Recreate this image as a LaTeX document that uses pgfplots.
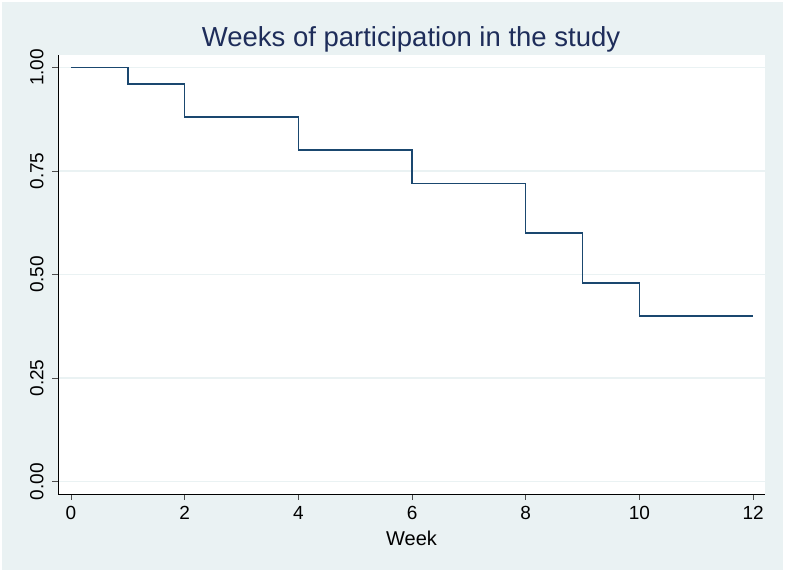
\documentclass[border=0pt]{standalone}
\usepackage{pgfplots}
\pgfplotsset{compat=1.18}
\usepackage{fontspec}
\setmainfont{Liberation Sans}
\definecolor{bgc}{RGB}{234,242,243}
\definecolor{navy}{RGB}{26,71,111}
\definecolor{titc}{RGB}{30,45,90}
\begin{document}
\begin{tikzpicture}[x=1pt,y=1pt]
\useasboundingbox (0,0) rectangle (786,572);
\fill[white] (0,0) rectangle (786,572);
\fill[bgc] (2,2) rectangle (783,570);
\node[font=\fontsize{27.5}{32}\selectfont, text=titc, anchor=base] at (411,525) {Weeks of participation in the study};
\begin{axis}[
  at={(58pt,78pt)}, anchor=south west,
  scale only axis, width=707pt, height=439pt,
  xmin=-0.229, xmax=12.21, ymin=-0.030, ymax=1.030,
  axis x line*=bottom, axis y line*=left,
  axis line style={black, line width=0.9pt},
  axis background/.style={fill=white},
  tick align=outside, major tick length=6pt,
  tick style={black!70, line width=0.9pt},
  xtick={0,2,...,12},
  ytick={0,0.25,0.5,0.75,1},
  yticklabels={0.00,0.25,0.50,0.75,1.00},
  yticklabel style={rotate=90, anchor=south, font=\fontsize{19}{22}\selectfont},
  xticklabel style={font=\fontsize{19}{22}\selectfont},
  yticklabel shift=5pt, xticklabel shift=3pt,
  /pgf/number format/assume math mode=true,
  ymajorgrids, grid style={bgc, line width=1.5pt},
  xlabel={Week}, xlabel style={font=\fontsize{20}{23}\selectfont, yshift=-4pt},
  clip=false,
]
\addplot[const plot, navy, line width=1.5pt] coordinates {
(0,1.00) (1,0.96) (2,0.88) (4,0.80) (6,0.72) (8,0.60) (9,0.48) (10,0.40) (12,0.40)};
\end{axis}
\end{tikzpicture}
\end{document}
